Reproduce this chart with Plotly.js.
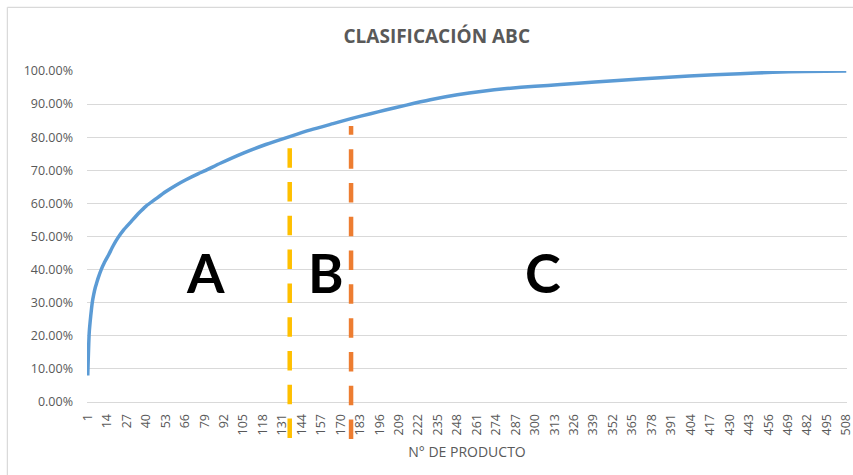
<!DOCTYPE html>
<html>
<head>
<meta charset="utf-8">
<script src="https://cdn.plot.ly/plotly-3.0.1.min.js"></script>
<style>html,body{margin:0;padding:0;background:#fff;}#chart{width:853px;height:475px;}</style>
</head>
<body>
<div id="chart"></div>
<script>
// Product number (x) and cumulative percentage (y)
const productN = [1, 2, 3, 4, 5, 6, 7, 8, 10, 12, 15, 18, 21, 25, 30, 35, 40, 46, 53, 60, 66, 75, 79, 90, 105, 120, 136, 150, 165, 177, 190, 200, 214, 230, 248, 265, 281, 300, 317, 340, 370, 403, 437, 459, 480, 508];
const cumPct = [0.080, 0.210, 0.260, 0.300, 0.325, 0.345, 0.360, 0.375, 0.400, 0.420, 0.445, 0.472, 0.495, 0.520, 0.545, 0.570, 0.592, 0.612, 0.635, 0.655, 0.670, 0.690, 0.698, 0.722, 0.752, 0.778, 0.802, 0.822, 0.841, 0.856, 0.871, 0.882, 0.897, 0.913, 0.928, 0.939, 0.947, 0.954, 0.959, 0.967, 0.976, 0.985, 0.992, 0.996, 0.9985, 1.000];

// Class boundaries (product number)
const cutAB = 136;
const cutBC = 177;

// Class labels
const classLabels = ['A', 'B', 'C'];

// X tick labels
const xTicks = [1, 14, 27, 40, 53, 66, 79, 92, 105, 118, 131, 144, 157, 170, 183, 196, 209, 222, 235, 248, 261, 274, 287, 300, 313, 326, 339, 352, 365, 378, 391, 404, 417, 430, 443, 456, 469, 482, 495, 508];

const gray = '#595959';
const font = 'Open Sans, Lato, sans-serif';

const trace = {
  x: productN,
  y: cumPct,
  type: 'scatter',
  mode: 'lines',
  line: {color: '#5B9BD5', width: 3.5, shape: 'spline', smoothing: 0.6},
  hoverinfo: 'skip'
};

const labelX = [80, 160, 305];

const layout = {
  width: 853,
  height: 475,
  margin: {l: 87, r: 6, t: 71, b: 73},
  paper_bgcolor: '#ffffff',
  plot_bgcolor: '#ffffff',
  showlegend: false,
  title: {
    text: '<b>CLASIFICACIÓN ABC</b>',
    font: {family: font, size: 19, color: gray},
    xref: 'container', yref: 'container',
    x: 0.512, xanchor: 'center',
    y: 1 - 36 / 475, yanchor: 'middle'
  },
  xaxis: {
    range: [0.5, 508.5],
    tickmode: 'array',
    tickvals: xTicks,
    ticktext: xTicks.map(String),
    tickangle: -90,
    tickfont: {family: font, size: 12.5, color: gray},
    ticks: '',
    ticklabelstandoff: 6,
    ticklabeloverflow: 'allow',
    showgrid: false,
    zeroline: false,
    showline: true,
    linecolor: '#d9d9d9',
    linewidth: 1,
    title: {text: 'N° DE PRODUCTO', font: {family: font, size: 14, color: gray}, standoff: 12},
    fixedrange: true
  },
  yaxis: {
    range: [0, 1],
    dtick: 0.1,
    tick0: 0,
    tickformat: '.2%',
    tickfont: {family: font, size: 12.5, color: gray},
    showgrid: true,
    gridcolor: '#d9d9d9',
    gridwidth: 1,
    zeroline: false,
    showline: false,
    ticks: '',
    ticklabelstandoff: 13,
    fixedrange: true
  },
  shapes: [
    {type: 'line', xref: 'x', yref: 'paper', x0: cutAB, x1: cutAB, y0: -0.109, y1: 0.771,
     line: {color: '#FFC000', width: 4.5, dash: '19.5px,14.3px'}},
    {type: 'line', xref: 'x', yref: 'paper', x0: cutBC, x1: cutBC, y0: -0.112, y1: 0.834,
     line: {color: '#ED7D31', width: 4.5, dash: '19.5px,14.3px'}},
    {type: 'line', xref: 'paper', yref: 'paper', x0: -0.1048, x1: 1.2, y0: 1.1924, y1: 1.1924,
     line: {color: '#d9d9d9', width: 1.2}},
    {type: 'line', xref: 'paper', yref: 'paper', x0: -0.1048, x1: -0.1048, y0: 1.1924, y1: -0.3,
     line: {color: '#d9d9d9', width: 1.2}}
  ],
  annotations: classLabels.map((t, i) => ({
    text: '<b>' + t + '</b>',
    x: labelX[i], xref: 'x',
    y: 0.39, yref: 'paper',
    showarrow: false,
    xanchor: 'center', yanchor: 'middle',
    font: {family: 'Lato, Open Sans, sans-serif', size: 54, color: '#000000'}
  }))
};

Plotly.newPlot('chart', [trace], layout, {displayModeBar: false, staticPlot: true});
</script>
</body>
</html>
